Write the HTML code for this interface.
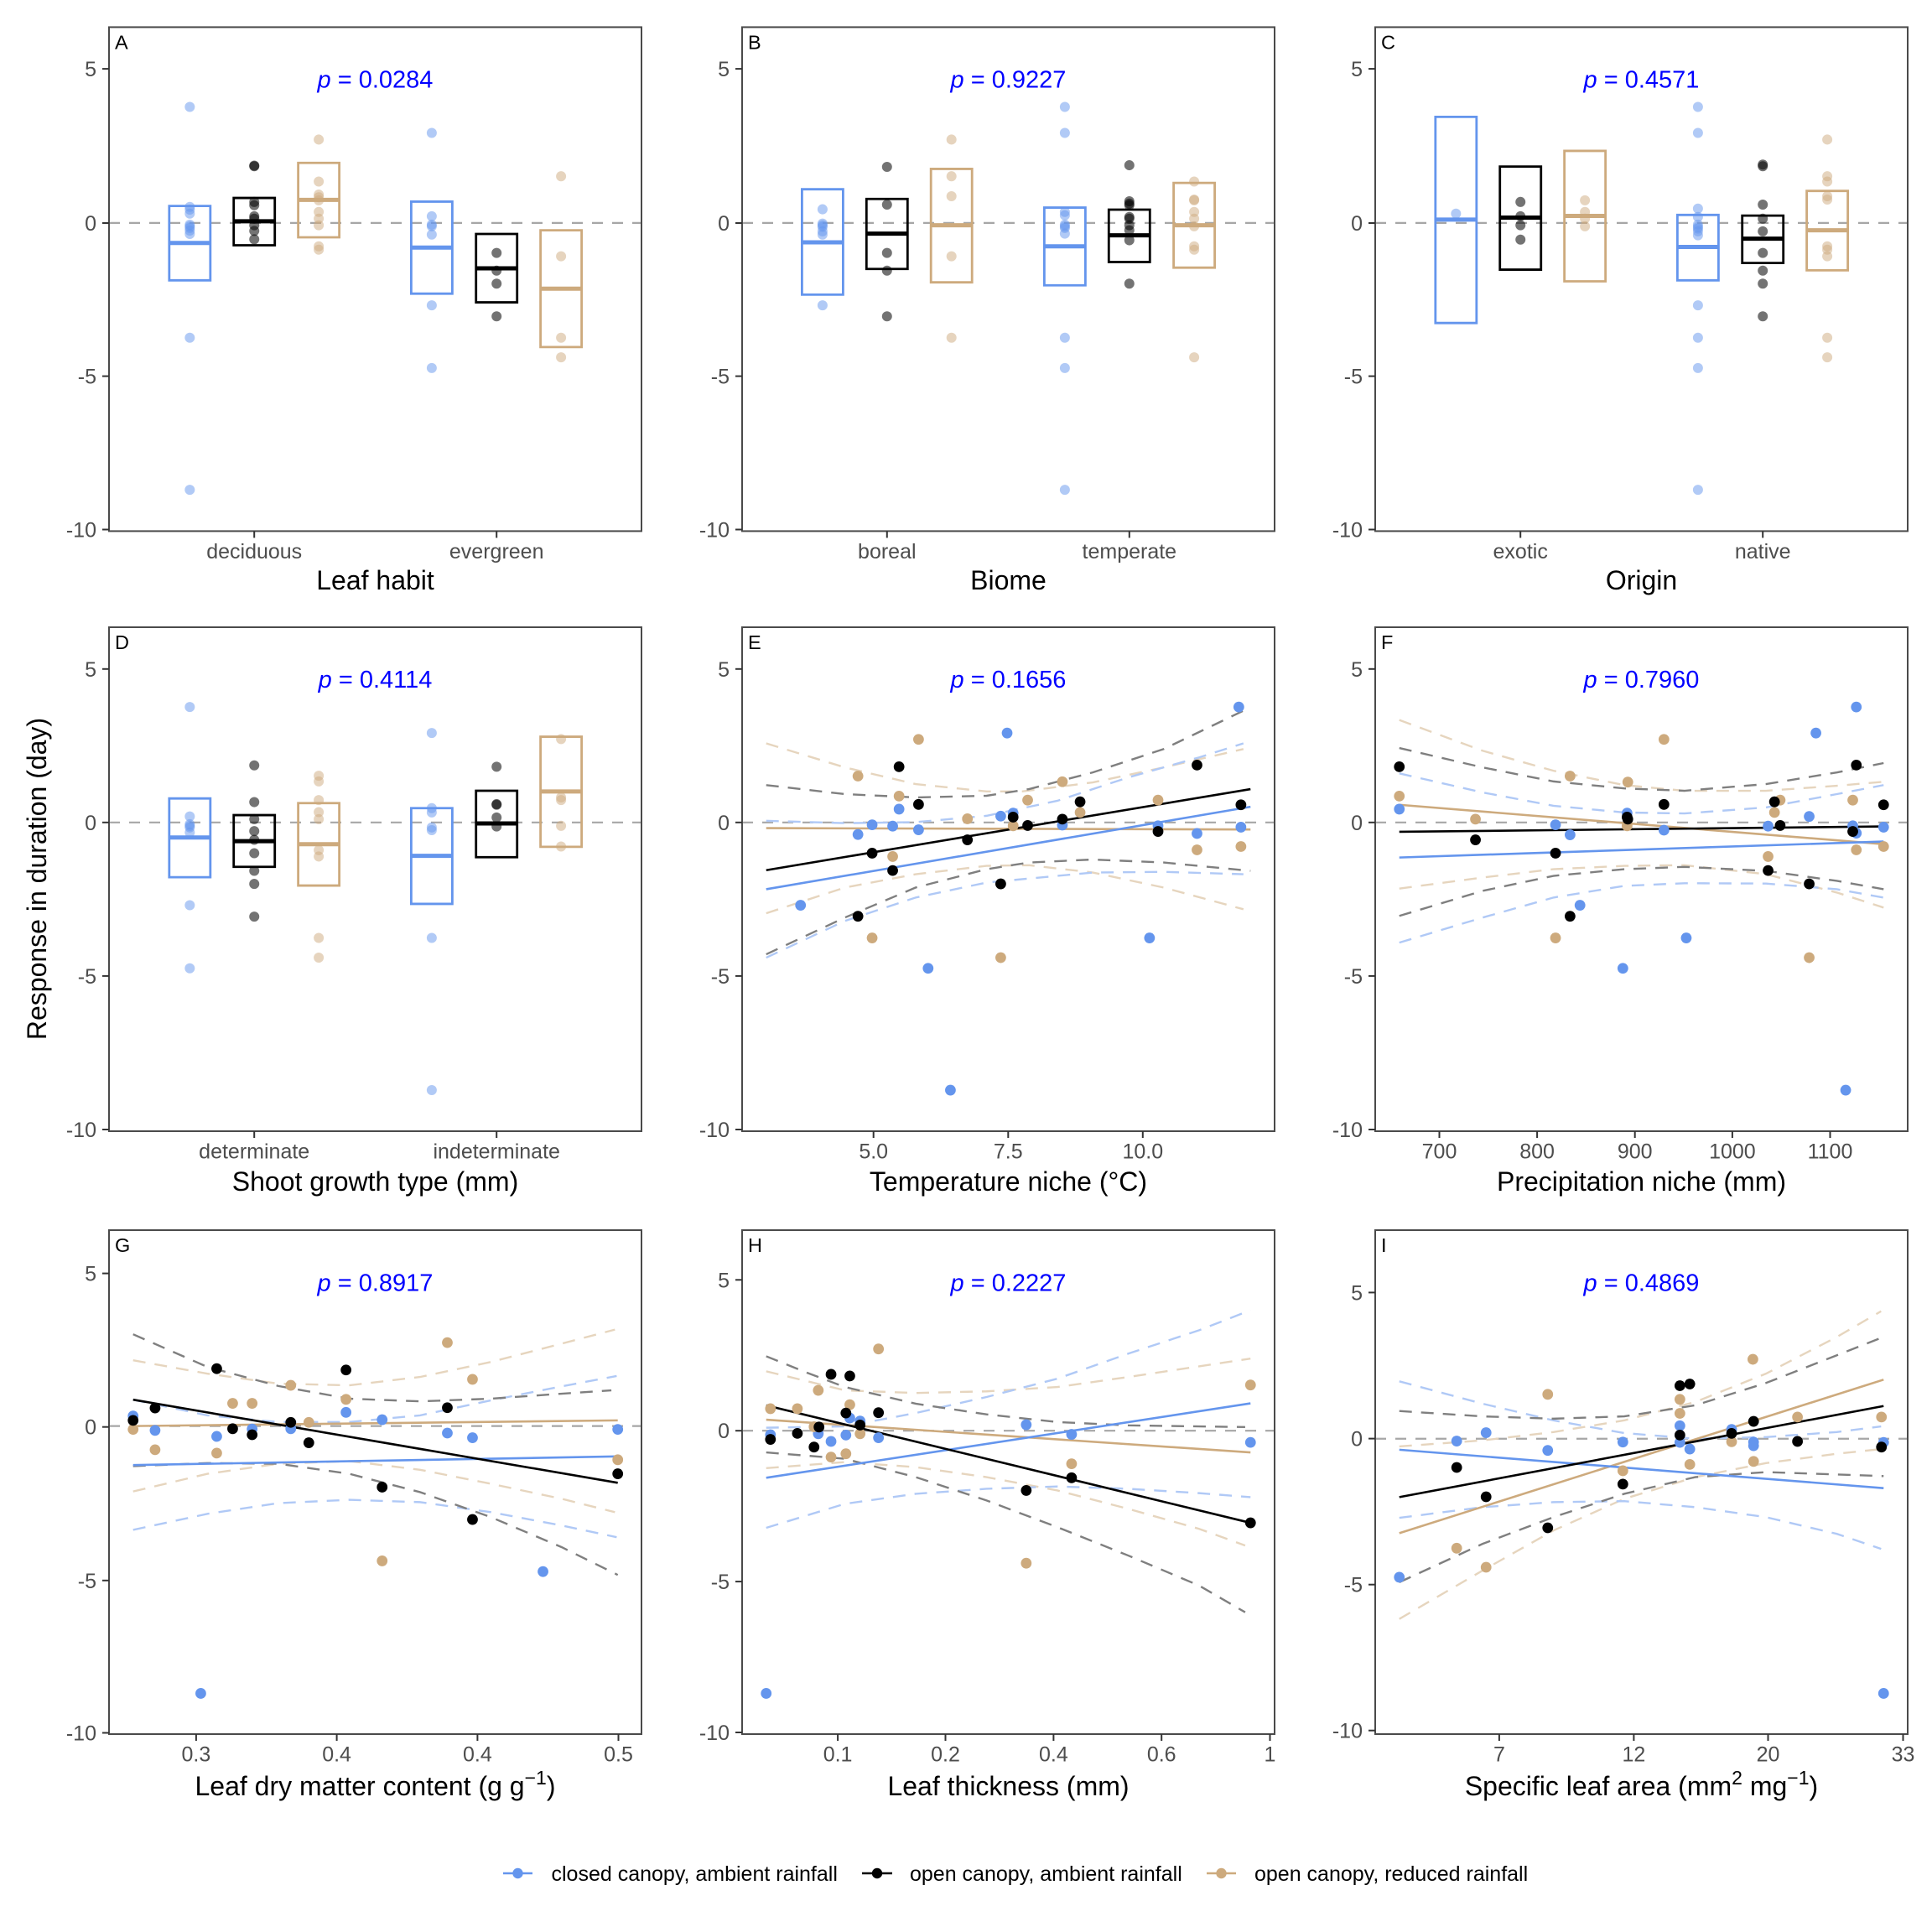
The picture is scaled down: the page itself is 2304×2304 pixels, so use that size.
<!DOCTYPE html>
<html><head><meta charset="utf-8">
<style>
html,body{margin:0;padding:0;background:#fff}
svg{display:block}
text{font-family:"Liberation Sans",Arial,sans-serif}
.tl{font-size:25px;fill:#4d4d4d}
.ti{font-size:32px;fill:#000}
.pv{font-size:29px;fill:#0000ff}
.lt{font-size:23.5px;fill:#000}
.lg{font-size:25px;fill:#000}
.ns,.ns *{vector-effect:non-scaling-stroke;fill:none}
.z{stroke:#a6a6a6;stroke-width:2.2;stroke-dasharray:13 11}
.bx,.bx *{stroke-width:2.8}
.md{stroke-width:5}
.sl{stroke-width:2.6}
.ci{stroke-width:2.4;stroke-dasharray:15 11}
.brd{fill:none;stroke:#4a4a4a;stroke-width:2}
.tk{stroke:#333;stroke-width:2}
</style></head><body>
<svg width="2304" height="2304" viewBox="0 0 2304 2304" xmlns="http://www.w3.org/2000/svg">
<defs>
<ellipse id="b" cx="0" cy="0" rx="14.2" ry="15.1"/>
<ellipse id="s" cx="0" cy="0" rx="15.1" ry="16.1"/>
</defs>
<rect x="0" y="0" width="2304" height="2304" fill="#fff"/>

<!-- ================= PANEL A ================= -->
<g transform="matrix(0.42249 0 0 0.39775 120.705 30.01)">
<line class="ns z" x1="22" y1="593" x2="1525" y2="593"/>
<g class="ns bx" stroke="#6495ED"><rect x="192" y="542" width="116" height="223"/><rect x="875" y="529" width="116" height="276"/></g>
<g class="ns bx" stroke="#000"><rect x="374" y="518" width="116" height="142"/><rect x="1058" y="626" width="116" height="205"/></g>
<g class="ns bx" stroke="#CDAA7D"><rect x="556" y="413" width="116" height="223"/><rect x="1240" y="615" width="116" height="350"/></g>
<line class="ns md" stroke="#6495ED" x1="192" y1="653" x2="308" y2="653"/>
<line class="ns md" stroke="#000" x1="374" y1="588" x2="490" y2="588"/>
<line class="ns md" stroke="#CDAA7D" x1="556" y1="524" x2="672" y2="524"/>
<line class="ns md" stroke="#6495ED" x1="875" y1="667" x2="991" y2="667"/>
<line class="ns md" stroke="#000" x1="1058" y1="729" x2="1174" y2="729"/>
<line class="ns md" stroke="#CDAA7D" x1="1240" y1="790" x2="1356" y2="790"/>
<g fill="#6495ED" fill-opacity="0.5">
<use href="#b" x="250" y="245"/><use href="#b" x="250" y="545"/><use href="#b" x="250" y="553"/><use href="#b" x="250" y="565"/><use href="#b" x="250" y="598"/><use href="#b" x="250" y="603"/><use href="#b" x="250" y="608"/><use href="#b" x="250" y="616"/><use href="#b" x="250" y="626"/><use href="#b" x="250" y="937"/><use href="#b" x="250" y="1393"/>
<use href="#b" x="933" y="323"/><use href="#b" x="933" y="573"/><use href="#b" x="933" y="598"/><use href="#b" x="933" y="603"/><use href="#b" x="933" y="628"/><use href="#b" x="933" y="840"/><use href="#b" x="933" y="1028"/>
</g>
<g fill="#000" fill-opacity="0.55">
<use href="#b" x="432" y="421"/><use href="#b" x="432" y="423"/><use href="#b" x="432" y="530"/><use href="#b" x="432" y="540"/><use href="#b" x="432" y="573"/><use href="#b" x="432" y="580"/><use href="#b" x="432" y="600"/><use href="#b" x="432" y="617"/><use href="#b" x="432" y="642"/>
<use href="#b" x="1116" y="683"/><use href="#b" x="1116" y="736"/><use href="#b" x="1116" y="775"/><use href="#b" x="1116" y="873"/>
</g>
<g fill="#CDAA7D" fill-opacity="0.5">
<use href="#b" x="614" y="343"/><use href="#b" x="614" y="469"/><use href="#b" x="614" y="508"/><use href="#b" x="614" y="516"/><use href="#b" x="614" y="525"/><use href="#b" x="614" y="560"/><use href="#b" x="614" y="580"/><use href="#b" x="614" y="600"/><use href="#b" x="614" y="663"/><use href="#b" x="614" y="673"/>
<use href="#b" x="1298" y="453"/><use href="#b" x="1298" y="693"/><use href="#b" x="1298" y="937"/><use href="#b" x="1298" y="996"/>
</g>
</g>

<!-- ================= PANEL B ================= -->
<g transform="matrix(0.42249 0 0 0.39775 880.775 30.01)">
<line class="ns z" x1="10" y1="593" x2="1513" y2="593"/>
<g class="ns bx" stroke="#6495ED"><rect x="179" y="492" width="116" height="316"/><rect x="863" y="547" width="116" height="233"/></g>
<g class="ns bx" stroke="#000"><rect x="361" y="521" width="116" height="210"/><rect x="1045" y="553" width="116" height="157"/></g>
<g class="ns bx" stroke="#CDAA7D"><rect x="543" y="431" width="116" height="340"/><rect x="1228" y="473" width="116" height="254"/></g>
<line class="ns md" stroke="#6495ED" x1="179" y1="651" x2="295" y2="651"/>
<line class="ns md" stroke="#000" x1="361" y1="625" x2="477" y2="625"/>
<line class="ns md" stroke="#CDAA7D" x1="543" y1="600" x2="659" y2="600"/>
<line class="ns md" stroke="#6495ED" x1="863" y1="663" x2="979" y2="663"/>
<line class="ns md" stroke="#000" x1="1045" y1="630" x2="1161" y2="630"/>
<line class="ns md" stroke="#CDAA7D" x1="1228" y1="600" x2="1344" y2="600"/>
<g fill="#6495ED" fill-opacity="0.5">
<use href="#b" x="237" y="552"/><use href="#b" x="237" y="595"/><use href="#b" x="237" y="600"/><use href="#b" x="237" y="605"/><use href="#b" x="237" y="618"/><use href="#b" x="237" y="628"/><use href="#b" x="237" y="840"/>
<use href="#b" x="921" y="245"/><use href="#b" x="921" y="323"/><use href="#b" x="921" y="560"/><use href="#b" x="921" y="570"/><use href="#b" x="921" y="598"/><use href="#b" x="921" y="603"/><use href="#b" x="921" y="608"/><use href="#b" x="921" y="625"/><use href="#b" x="921" y="937"/><use href="#b" x="921" y="1028"/><use href="#b" x="921" y="1393"/>
</g>
<g fill="#000" fill-opacity="0.55">
<use href="#b" x="419" y="425"/><use href="#b" x="419" y="538"/><use href="#b" x="419" y="683"/><use href="#b" x="419" y="736"/><use href="#b" x="419" y="873"/>
<use href="#b" x="1103" y="420"/><use href="#b" x="1103" y="528"/><use href="#b" x="1103" y="535"/><use href="#b" x="1103" y="540"/><use href="#b" x="1103" y="575"/><use href="#b" x="1103" y="580"/><use href="#b" x="1103" y="600"/><use href="#b" x="1103" y="615"/><use href="#b" x="1103" y="645"/><use href="#b" x="1103" y="775"/>
</g>
<g fill="#CDAA7D" fill-opacity="0.5">
<use href="#b" x="601" y="343"/><use href="#b" x="601" y="453"/><use href="#b" x="601" y="513"/><use href="#b" x="601" y="693"/><use href="#b" x="601" y="937"/>
<use href="#b" x="1286" y="469"/><use href="#b" x="1286" y="523"/><use href="#b" x="1286" y="525"/><use href="#b" x="1286" y="560"/><use href="#b" x="1286" y="580"/><use href="#b" x="1286" y="603"/><use href="#b" x="1286" y="663"/><use href="#b" x="1286" y="673"/><use href="#b" x="1286" y="996"/>
</g>
</g>

<!-- ================= PANEL C ================= -->
<g transform="matrix(0.42249 0 0 0.39775 1641.27 30.01)">
<line class="ns z" x1="-3" y1="593" x2="1500" y2="593"/>
<g class="ns bx" stroke="#6495ED"><rect x="167" y="275" width="116" height="618"/><rect x="850" y="569" width="116" height="196"/></g>
<g class="ns bx" stroke="#000"><rect x="349" y="424" width="116" height="309"/><rect x="1033" y="571" width="116" height="142"/></g>
<g class="ns bx" stroke="#CDAA7D"><rect x="531" y="377" width="116" height="391"/><rect x="1215" y="497" width="116" height="238"/></g>
<line class="ns md" stroke="#6495ED" x1="167" y1="583" x2="283" y2="583"/>
<line class="ns md" stroke="#000" x1="349" y1="577" x2="465" y2="577"/>
<line class="ns md" stroke="#CDAA7D" x1="531" y1="572" x2="647" y2="572"/>
<line class="ns md" stroke="#6495ED" x1="850" y1="665" x2="966" y2="665"/>
<line class="ns md" stroke="#000" x1="1033" y1="640" x2="1149" y2="640"/>
<line class="ns md" stroke="#CDAA7D" x1="1215" y1="615" x2="1331" y2="615"/>
<g fill="#6495ED" fill-opacity="0.5">
<use href="#b" x="225" y="565"/>
<use href="#b" x="908" y="245"/><use href="#b" x="908" y="323"/><use href="#b" x="908" y="550"/><use href="#b" x="908" y="575"/><use href="#b" x="908" y="598"/><use href="#b" x="908" y="605"/><use href="#b" x="908" y="610"/><use href="#b" x="908" y="618"/><use href="#b" x="908" y="630"/><use href="#b" x="908" y="840"/><use href="#b" x="908" y="937"/><use href="#b" x="908" y="1028"/><use href="#b" x="908" y="1393"/>
</g>
<g fill="#000" fill-opacity="0.55">
<use href="#b" x="407" y="530"/><use href="#b" x="407" y="573"/><use href="#b" x="407" y="600"/><use href="#b" x="407" y="643"/>
<use href="#b" x="1091" y="418"/><use href="#b" x="1091" y="423"/><use href="#b" x="1091" y="538"/><use href="#b" x="1091" y="580"/><use href="#b" x="1091" y="618"/><use href="#b" x="1091" y="683"/><use href="#b" x="1091" y="736"/><use href="#b" x="1091" y="775"/><use href="#b" x="1091" y="873"/>
</g>
<g fill="#CDAA7D" fill-opacity="0.5">
<use href="#b" x="589" y="525"/><use href="#b" x="589" y="560"/><use href="#b" x="589" y="580"/><use href="#b" x="589" y="603"/>
<use href="#b" x="1273" y="343"/><use href="#b" x="1273" y="453"/><use href="#b" x="1273" y="469"/><use href="#b" x="1273" y="513"/><use href="#b" x="1273" y="523"/><use href="#b" x="1273" y="663"/><use href="#b" x="1273" y="673"/><use href="#b" x="1273" y="693"/><use href="#b" x="1273" y="937"/><use href="#b" x="1273" y="996"/>
</g>
</g>

<!-- ================= PANEL D ================= -->
<g transform="matrix(0.42249 0 0 0.39801 120.705 740.04)">
<line class="ns z" x1="22" y1="605" x2="1525" y2="605"/>
<g class="ns bx" stroke="#6495ED"><rect x="192" y="533" width="116" height="236"/><rect x="875" y="562" width="116" height="287"/></g>
<g class="ns bx" stroke="#000"><rect x="374" y="583" width="116" height="155"/><rect x="1058" y="510" width="116" height="199"/></g>
<g class="ns bx" stroke="#CDAA7D"><rect x="556" y="547" width="116" height="247"/><rect x="1240" y="348" width="116" height="330"/></g>
<line class="ns md" stroke="#6495ED" x1="192" y1="650" x2="308" y2="650"/>
<line class="ns md" stroke="#000" x1="374" y1="661" x2="490" y2="661"/>
<line class="ns md" stroke="#CDAA7D" x1="556" y1="670" x2="672" y2="670"/>
<line class="ns md" stroke="#6495ED" x1="875" y1="705" x2="991" y2="705"/>
<line class="ns md" stroke="#000" x1="1058" y1="608" x2="1174" y2="608"/>
<line class="ns md" stroke="#CDAA7D" x1="1240" y1="512" x2="1356" y2="512"/>
<g fill="#6495ED" fill-opacity="0.5">
<use href="#b" x="250" y="259"/><use href="#b" x="250" y="587"/><use href="#b" x="250" y="610"/><use href="#b" x="250" y="615"/><use href="#b" x="250" y="620"/><use href="#b" x="250" y="635"/><use href="#b" x="250" y="853"/><use href="#b" x="250" y="1042"/>
<use href="#b" x="933" y="337"/><use href="#b" x="933" y="562"/><use href="#b" x="933" y="575"/><use href="#b" x="933" y="620"/><use href="#b" x="933" y="628"/><use href="#b" x="933" y="951"/><use href="#b" x="933" y="1407"/>
</g>
<g fill="#000" fill-opacity="0.55">
<use href="#b" x="432" y="434"/><use href="#b" x="432" y="544"/><use href="#b" x="432" y="595"/><use href="#b" x="432" y="631"/><use href="#b" x="432" y="657"/><use href="#b" x="432" y="697"/><use href="#b" x="432" y="750"/><use href="#b" x="432" y="789"/><use href="#b" x="432" y="887"/>
<use href="#b" x="1116" y="438"/><use href="#b" x="1116" y="550"/><use href="#b" x="1116" y="552"/><use href="#b" x="1116" y="590"/><use href="#b" x="1116" y="617"/>
</g>
<g fill="#CDAA7D" fill-opacity="0.5">
<use href="#b" x="614" y="465"/><use href="#b" x="614" y="482"/><use href="#b" x="614" y="538"/><use href="#b" x="614" y="574"/><use href="#b" x="614" y="595"/><use href="#b" x="614" y="688"/><use href="#b" x="614" y="707"/><use href="#b" x="614" y="951"/><use href="#b" x="614" y="1010"/>
<use href="#b" x="1298" y="355"/><use href="#b" x="1298" y="530"/><use href="#b" x="1298" y="538"/><use href="#b" x="1298" y="615"/><use href="#b" x="1298" y="677"/>
</g>
</g>

<!-- ================= PANEL E ================= -->
<g transform="matrix(0.42249 0 0 0.39801 880.775 740.04)">
<line class="ns z" x1="10" y1="605" x2="1513" y2="605"/>
<polyline class="ns ci" stroke="#E6D5BE" points="78,368 300,440 500,490 700,512 800,512 1000,485 1200,440 1425,385"/>
<polyline class="ns ci" stroke="#E6D5BE" points="78,877 300,800 500,760 700,735 820,733 1000,755 1200,800 1425,865"/>
<polyline class="ns ci" stroke="#B0C9F6" points="78,600 300,607 500,604 700,585 900,540 1100,470 1300,410 1425,368"/>
<polyline class="ns ci" stroke="#B0C9F6" points="78,1010 300,900 500,830 700,785 900,765 1000,755 1200,753 1425,760"/>
<polyline class="ns ci" stroke="#7f7f7f" points="78,493 300,520 500,530 700,525 820,505 1000,455 1200,385 1445,260"/>
<polyline class="ns ci" stroke="#7f7f7f" points="78,1000 300,890 500,800 700,745 820,725 1000,716 1200,725 1445,750"/>
<line class="ns sl" stroke="#CDAA7D" x1="78" y1="622" x2="1445" y2="626"/>
<line class="ns sl" stroke="#6495ED" x1="78" y1="805" x2="1445" y2="558"/>
<line class="ns sl" stroke="#000" x1="78" y1="748" x2="1445" y2="505"/>
<g fill="#6495ED">
<use href="#s" x="175" y="853"/><use href="#s" x="337" y="641"/><use href="#s" x="377" y="612"/><use href="#s" x="435" y="616"/><use href="#s" x="453" y="565"/><use href="#s" x="508" y="627"/><use href="#s" x="535" y="1042"/><use href="#s" x="598" y="1407"/><use href="#s" x="740" y="586"/><use href="#s" x="758" y="337"/><use href="#s" x="775" y="577"/><use href="#s" x="914" y="613"/><use href="#s" x="1160" y="951"/><use href="#s" x="1184" y="615"/><use href="#s" x="1294" y="638"/><use href="#s" x="1412" y="259"/><use href="#s" x="1418" y="619"/>
</g>
<g fill="#CDAA7D">
<use href="#s" x="337" y="466"/><use href="#s" x="377" y="951"/><use href="#s" x="435" y="707"/><use href="#s" x="453" y="526"/><use href="#s" x="508" y="356"/><use href="#s" x="646" y="594"/><use href="#s" x="740" y="1010"/><use href="#s" x="775" y="615"/><use href="#s" x="816" y="538"/><use href="#s" x="914" y="483"/><use href="#s" x="964" y="575"/><use href="#s" x="1184" y="538"/><use href="#s" x="1294" y="687"/><use href="#s" x="1418" y="677"/>
</g>
<g fill="#000">
<use href="#s" x="337" y="886"/><use href="#s" x="377" y="697"/><use href="#s" x="435" y="749"/><use href="#s" x="453" y="438"/><use href="#s" x="508" y="551"/><use href="#s" x="646" y="657"/><use href="#s" x="740" y="789"/><use href="#s" x="775" y="589"/><use href="#s" x="816" y="614"/><use href="#s" x="914" y="595"/><use href="#s" x="964" y="543"/><use href="#s" x="1184" y="632"/><use href="#s" x="1294" y="433"/><use href="#s" x="1418" y="552"/>
</g>
</g>

<!-- ================= PANEL F ================= -->
<g transform="matrix(0.42249 0 0 0.39801 1641.27 740.04)">
<line class="ns z" x1="-3" y1="605" x2="1500" y2="605"/>
<polyline class="ns ci" stroke="#E6D5BE" points="65,298 300,390 500,450 700,493 870,510 1100,510 1300,495 1432,483"/>
<polyline class="ns ci" stroke="#E6D5BE" points="65,803 300,770 500,745 700,735 870,733 1100,760 1300,815 1432,860"/>
<polyline class="ns ci" stroke="#B0C9F6" points="65,458 300,515 500,555 700,575 870,578 1100,560 1300,520 1432,493"/>
<polyline class="ns ci" stroke="#B0C9F6" points="65,965 300,890 500,830 700,795 870,787 1100,788 1300,805 1432,830"/>
<polyline class="ns ci" stroke="#7f7f7f" points="65,382 300,440 500,482 700,503 870,510 1100,490 1300,455 1432,427"/>
<polyline class="ns ci" stroke="#7f7f7f" points="65,885 300,810 500,765 700,745 870,738 1100,750 1300,780 1432,805"/>
<line class="ns sl" stroke="#CDAA7D" x1="65" y1="552" x2="1432" y2="670"/>
<line class="ns sl" stroke="#6495ED" x1="65" y1="710" x2="1432" y2="662"/>
<line class="ns sl" stroke="#000" x1="65" y1="633" x2="1432" y2="617"/>
<g fill="#6495ED">
<use href="#s" x="65" y="565"/><use href="#s" x="506" y="612"/><use href="#s" x="547" y="642"/><use href="#s" x="575" y="853"/><use href="#s" x="696" y="1042"/><use href="#s" x="708" y="577"/><use href="#s" x="812" y="628"/><use href="#s" x="875" y="951"/><use href="#s" x="1106" y="616"/><use href="#s" x="1222" y="587"/><use href="#s" x="1241" y="337"/><use href="#s" x="1325" y="1407"/><use href="#s" x="1345" y="615"/><use href="#s" x="1355" y="259"/><use href="#s" x="1355" y="637"/><use href="#s" x="1432" y="619"/>
</g>
<g fill="#CDAA7D">
<use href="#s" x="65" y="526"/><use href="#s" x="280" y="595"/><use href="#s" x="506" y="951"/><use href="#s" x="547" y="466"/><use href="#s" x="708" y="615"/><use href="#s" x="710" y="484"/><use href="#s" x="812" y="356"/><use href="#s" x="1106" y="707"/><use href="#s" x="1124" y="575"/><use href="#s" x="1140" y="538"/><use href="#s" x="1222" y="1010"/><use href="#s" x="1345" y="538"/><use href="#s" x="1355" y="687"/><use href="#s" x="1432" y="677"/>
</g>
<g fill="#000">
<use href="#s" x="65" y="438"/><use href="#s" x="280" y="657"/><use href="#s" x="506" y="697"/><use href="#s" x="547" y="886"/><use href="#s" x="708" y="589"/><use href="#s" x="710" y="595"/><use href="#s" x="812" y="551"/><use href="#s" x="1106" y="749"/><use href="#s" x="1124" y="543"/><use href="#s" x="1140" y="614"/><use href="#s" x="1222" y="789"/><use href="#s" x="1345" y="632"/><use href="#s" x="1355" y="433"/><use href="#s" x="1432" y="552"/>
</g>
</g>

<!-- ================= PANEL G ================= -->
<g transform="matrix(0.42249 0 0 0.39801 120.705 1459.04)">
<line class="ns z" x1="22" y1="607" x2="1525" y2="607"/>
<polyline class="ns ci" stroke="#E6D5BE" points="90,410 300,450 500,480 700,485 900,460 1100,415 1300,360 1450,318"/>
<polyline class="ns ci" stroke="#E6D5BE" points="90,803 300,750 500,720 700,712 900,738 1100,780 1300,825 1450,865"/>
<polyline class="ns ci" stroke="#B0C9F6" points="90,528 300,575 500,595 700,595 900,575 1100,530 1300,488 1455,457"/>
<polyline class="ns ci" stroke="#B0C9F6" points="90,918 300,870 500,838 700,828 900,835 1100,865 1300,905 1455,940"/>
<polyline class="ns ci" stroke="#7f7f7f" points="90,332 300,430 500,487 700,525 900,533 1100,525 1300,510 1440,500"/>
<polyline class="ns ci" stroke="#7f7f7f" points="90,727 300,718 500,720 700,750 900,805 1100,880 1300,970 1458,1053"/>
<line class="ns sl" stroke="#CDAA7D" x1="90" y1="607" x2="1458" y2="590"/>
<line class="ns sl" stroke="#6495ED" x1="90" y1="724" x2="1458" y2="698"/>
<line class="ns sl" stroke="#000" x1="90" y1="528" x2="1458" y2="777"/>
<g fill="#6495ED">
<use href="#s" x="90" y="577"/><use href="#s" x="152" y="620"/><use href="#s" x="281" y="1408"/><use href="#s" x="326" y="638"/><use href="#s" x="426" y="616"/><use href="#s" x="535" y="615"/><use href="#s" x="691" y="566"/><use href="#s" x="793" y="588"/><use href="#s" x="977" y="628"/><use href="#s" x="1048" y="642"/><use href="#s" x="1247" y="1043"/><use href="#s" x="1458" y="617"/>
</g>
<g fill="#CDAA7D">
<use href="#s" x="90" y="617"/><use href="#s" x="152" y="678"/><use href="#s" x="326" y="688"/><use href="#s" x="371" y="539"/><use href="#s" x="426" y="539"/><use href="#s" x="535" y="485"/><use href="#s" x="586" y="596"/><use href="#s" x="691" y="527"/><use href="#s" x="793" y="1011"/><use href="#s" x="977" y="357"/><use href="#s" x="1048" y="467"/><use href="#s" x="1458" y="708"/>
</g>
<g fill="#000">
<use href="#s" x="90" y="590"/><use href="#s" x="152" y="553"/><use href="#s" x="326" y="435"/><use href="#s" x="371" y="615"/><use href="#s" x="426" y="633"/><use href="#s" x="535" y="596"/><use href="#s" x="586" y="657"/><use href="#s" x="691" y="439"/><use href="#s" x="793" y="790"/><use href="#s" x="977" y="552"/><use href="#s" x="1048" y="887"/><use href="#s" x="1458" y="750"/>
</g>
</g>

<!-- ================= PANEL H ================= -->
<g transform="matrix(0.42249 0 0 0.39801 880.775 1459.04)">
<line class="ns z" x1="10" y1="621" x2="1513" y2="621"/>
<polyline class="ns ci" stroke="#E6D5BE" points="78,443 300,500 500,508 700,503 900,490 1100,460 1300,428 1445,405"/>
<polyline class="ns ci" stroke="#E6D5BE" points="78,733 300,715 500,730 700,760 900,800 1100,855 1300,915 1430,965"/>
<polyline class="ns ci" stroke="#B0C9F6" points="78,612 300,608 500,568 700,520 900,465 1100,390 1300,320 1445,260"/>
<polyline class="ns ci" stroke="#B0C9F6" points="78,912 300,840 500,810 700,795 900,788 1100,795 1300,808 1445,820"/>
<polyline class="ns ci" stroke="#7f7f7f" points="78,398 200,450 300,490 500,540 700,572 900,595 1100,605 1430,610"/>
<polyline class="ns ci" stroke="#7f7f7f" points="78,686 300,705 500,760 700,830 900,910 1100,995 1300,1085 1430,1165"/>
<line class="ns sl" stroke="#CDAA7D" x1="78" y1="588" x2="1445" y2="686"/>
<line class="ns sl" stroke="#6495ED" x1="78" y1="762" x2="1445" y2="539"/>
<line class="ns sl" stroke="#000" x1="78" y1="545" x2="1445" y2="897"/>
<g fill="#6495ED">
<use href="#s" x="78" y="1408"/><use href="#s" x="90" y="633"/><use href="#s" x="225" y="630"/><use href="#s" x="261" y="653"/><use href="#s" x="303" y="634"/><use href="#s" x="314" y="583"/><use href="#s" x="343" y="592"/><use href="#s" x="395" y="642"/><use href="#s" x="812" y="603"/><use href="#s" x="940" y="632"/><use href="#s" x="1445" y="656"/>
</g>
<g fill="#CDAA7D">
<use href="#s" x="90" y="555"/><use href="#s" x="166" y="555"/><use href="#s" x="213" y="609"/><use href="#s" x="225" y="500"/><use href="#s" x="261" y="700"/><use href="#s" x="303" y="690"/><use href="#s" x="314" y="543"/><use href="#s" x="343" y="630"/><use href="#s" x="395" y="376"/><use href="#s" x="812" y="1018"/><use href="#s" x="940" y="720"/><use href="#s" x="1445" y="484"/>
</g>
<g fill="#000">
<use href="#s" x="90" y="647"/><use href="#s" x="166" y="629"/><use href="#s" x="213" y="670"/><use href="#s" x="227" y="610"/><use href="#s" x="261" y="452"/><use href="#s" x="303" y="568"/><use href="#s" x="314" y="457"/><use href="#s" x="343" y="604"/><use href="#s" x="395" y="567"/><use href="#s" x="812" y="800"/><use href="#s" x="940" y="762"/><use href="#s" x="1445" y="897"/>
</g>
</g>

<!-- ================= PANEL I ================= -->
<g transform="matrix(0.42249 0 0 0.39801 1641.27 1459.04)">
<line class="ns z" x1="-3" y1="645" x2="1500" y2="645"/>
<polyline class="ns ci" stroke="#E6D5BE" points="65,668 300,650 500,625 700,590 900,535 1100,450 1300,340 1425,263"/>
<polyline class="ns ci" stroke="#E6D5BE" points="65,1185 300,1040 500,920 700,825 900,760 1100,718 1300,690 1425,676"/>
<polyline class="ns ci" stroke="#B0C9F6" points="65,473 300,540 500,590 700,628 900,645 1100,640 1300,625 1425,608"/>
<polyline class="ns ci" stroke="#B0C9F6" points="65,882 300,850 500,835 700,832 900,850 1100,880 1300,930 1425,975"/>
<polyline class="ns ci" stroke="#7f7f7f" points="65,562 300,578 500,585 700,578 900,545 1100,478 1300,395 1432,340"/>
<polyline class="ns ci" stroke="#7f7f7f" points="65,1075 300,960 500,880 700,810 900,760 1100,745 1300,752 1432,757"/>
<line class="ns sl" stroke="#CDAA7D" x1="65" y1="928" x2="1432" y2="468"/>
<line class="ns sl" stroke="#6495ED" x1="65" y1="678" x2="1432" y2="793"/>
<line class="ns sl" stroke="#000" x1="65" y1="820" x2="1432" y2="547"/>
<g fill="#6495ED">
<use href="#s" x="65" y="1060"/><use href="#s" x="227" y="652"/><use href="#s" x="310" y="627"/><use href="#s" x="484" y="680"/><use href="#s" x="696" y="655"/><use href="#s" x="857" y="606"/><use href="#s" x="857" y="656"/><use href="#s" x="885" y="676"/><use href="#s" x="1003" y="617"/><use href="#s" x="1065" y="655"/><use href="#s" x="1065" y="666"/><use href="#s" x="1432" y="656"/><use href="#s" x="1432" y="1408"/>
</g>
<g fill="#CDAA7D">
<use href="#s" x="227" y="973"/><use href="#s" x="310" y="1030"/><use href="#s" x="484" y="512"/><use href="#s" x="696" y="741"/><use href="#s" x="857" y="527"/><use href="#s" x="857" y="569"/><use href="#s" x="885" y="722"/><use href="#s" x="1003" y="654"/><use href="#s" x="1063" y="407"/><use href="#s" x="1065" y="713"/><use href="#s" x="1189" y="580"/><use href="#s" x="1426" y="580"/>
</g>
<g fill="#000">
<use href="#s" x="227" y="731"/><use href="#s" x="310" y="819"/><use href="#s" x="484" y="912"/><use href="#s" x="696" y="781"/><use href="#s" x="857" y="486"/><use href="#s" x="885" y="481"/><use href="#s" x="857" y="634"/><use href="#s" x="1003" y="629"/><use href="#s" x="1065" y="593"/><use href="#s" x="1189" y="653"/><use href="#s" x="1426" y="670"/>
</g>
</g>

<!-- ================= BORDERS ================= -->
<rect class="brd" x="130" y="32.4" width="635" height="601"/>
<rect class="brd" x="885" y="32.4" width="635" height="601"/>
<rect class="brd" x="1640" y="32.4" width="635" height="601"/>
<rect class="brd" x="130" y="748" width="635" height="601"/>
<rect class="brd" x="885" y="748" width="635" height="601"/>
<rect class="brd" x="1640" y="748" width="635" height="601"/>
<rect class="brd" x="130" y="1467" width="635" height="601"/>
<rect class="brd" x="885" y="1467" width="635" height="601"/>
<rect class="brd" x="1640" y="1467" width="635" height="601"/>

<!-- ================= Y TICKS ================= -->
<g class="tk">
<line x1="122" y1="82.1" x2="130" y2="82.1"/><line x1="122" y1="266" x2="130" y2="266"/><line x1="122" y1="448.6" x2="130" y2="448.6"/><line x1="122" y1="631.5" x2="130" y2="631.5"/>
<line x1="877" y1="82.1" x2="885" y2="82.1"/><line x1="877" y1="266" x2="885" y2="266"/><line x1="877" y1="448.6" x2="885" y2="448.6"/><line x1="877" y1="631.5" x2="885" y2="631.5"/>
<line x1="1632" y1="82.1" x2="1640" y2="82.1"/><line x1="1632" y1="266" x2="1640" y2="266"/><line x1="1632" y1="448.6" x2="1640" y2="448.6"/><line x1="1632" y1="631.5" x2="1640" y2="631.5"/>
<line x1="122" y1="797.8" x2="130" y2="797.8"/><line x1="122" y1="980.8" x2="130" y2="980.8"/><line x1="122" y1="1163.9" x2="130" y2="1163.9"/><line x1="122" y1="1347" x2="130" y2="1347"/>
<line x1="877" y1="797.8" x2="885" y2="797.8"/><line x1="877" y1="980.8" x2="885" y2="980.8"/><line x1="877" y1="1163.9" x2="885" y2="1163.9"/><line x1="877" y1="1347" x2="885" y2="1347"/>
<line x1="1632" y1="797.8" x2="1640" y2="797.8"/><line x1="1632" y1="980.8" x2="1640" y2="980.8"/><line x1="1632" y1="1163.9" x2="1640" y2="1163.9"/><line x1="1632" y1="1347" x2="1640" y2="1347"/>
<line x1="122" y1="1518.6" x2="130" y2="1518.6"/><line x1="122" y1="1701.7" x2="130" y2="1701.7"/><line x1="122" y1="1884.8" x2="130" y2="1884.8"/><line x1="122" y1="2066.5" x2="130" y2="2066.5"/>
<line x1="877" y1="1526.3" x2="885" y2="1526.3"/><line x1="877" y1="1706.2" x2="885" y2="1706.2"/><line x1="877" y1="1886.1" x2="885" y2="1886.1"/><line x1="877" y1="2066" x2="885" y2="2066"/>
<line x1="1632" y1="1541.4" x2="1640" y2="1541.4"/><line x1="1632" y1="1715.6" x2="1640" y2="1715.6"/><line x1="1632" y1="1889.7" x2="1640" y2="1889.7"/><line x1="1632" y1="2063.7" x2="1640" y2="2063.7"/>
</g>
<g class="tl" text-anchor="end">
<text x="115" y="91">5</text><text x="115" y="275">0</text><text x="115" y="457.6">-5</text><text x="115" y="640.5">-10</text>
<text x="870" y="91">5</text><text x="870" y="275">0</text><text x="870" y="457.6">-5</text><text x="870" y="640.5">-10</text>
<text x="1625" y="91">5</text><text x="1625" y="275">0</text><text x="1625" y="457.6">-5</text><text x="1625" y="640.5">-10</text>
<text x="115" y="806.8">5</text><text x="115" y="989.8">0</text><text x="115" y="1172.9">-5</text><text x="115" y="1356">-10</text>
<text x="870" y="806.8">5</text><text x="870" y="989.8">0</text><text x="870" y="1172.9">-5</text><text x="870" y="1356">-10</text>
<text x="1625" y="806.8">5</text><text x="1625" y="989.8">0</text><text x="1625" y="1172.9">-5</text><text x="1625" y="1356">-10</text>
<text x="115" y="1527.6">5</text><text x="115" y="1710.7">0</text><text x="115" y="1893.8">-5</text><text x="115" y="2075.5">-10</text>
<text x="870" y="1535.3">5</text><text x="870" y="1715.2">0</text><text x="870" y="1895.1">-5</text><text x="870" y="2075">-10</text>
<text x="1625" y="1550.4">5</text><text x="1625" y="1724.6">0</text><text x="1625" y="1898.7">-5</text><text x="1625" y="2072.7">-10</text>
</g>

<!-- ================= X TICKS ================= -->
<g class="tk">
<line x1="303.2" y1="633.4" x2="303.2" y2="641.4"/><line x1="592.2" y1="633.4" x2="592.2" y2="641.4"/>
<line x1="1057.8" y1="633.4" x2="1057.8" y2="641.4"/><line x1="1346.8" y1="633.4" x2="1346.8" y2="641.4"/>
<line x1="1813.2" y1="633.4" x2="1813.2" y2="641.4"/><line x1="2102.2" y1="633.4" x2="2102.2" y2="641.4"/>
<line x1="303.2" y1="1349" x2="303.2" y2="1357"/><line x1="592.2" y1="1349" x2="592.2" y2="1357"/>
<line x1="1041.7" y1="1349" x2="1041.7" y2="1357"/><line x1="1202.3" y1="1349" x2="1202.3" y2="1357"/><line x1="1362.8" y1="1349" x2="1362.8" y2="1357"/>
<line x1="1716.5" y1="1349" x2="1716.5" y2="1357"/><line x1="1833.1" y1="1349" x2="1833.1" y2="1357"/><line x1="1949.7" y1="1349" x2="1949.7" y2="1357"/><line x1="2065.9" y1="1349" x2="2065.9" y2="1357"/><line x1="2182.5" y1="1349" x2="2182.5" y2="1357"/>
<line x1="233.9" y1="2068" x2="233.9" y2="2076"/><line x1="401.6" y1="2068" x2="401.6" y2="2076"/><line x1="569.4" y1="2068" x2="569.4" y2="2076"/><line x1="737.5" y1="2068" x2="737.5" y2="2076"/>
<line x1="999.1" y1="2068" x2="999.1" y2="2076"/><line x1="1127.5" y1="2068" x2="1127.5" y2="2076"/><line x1="1256.4" y1="2068" x2="1256.4" y2="2076"/><line x1="1385.2" y1="2068" x2="1385.2" y2="2076"/><line x1="1514.5" y1="2068" x2="1514.5" y2="2076"/>
<line x1="1787.9" y1="2068" x2="1787.9" y2="2076"/><line x1="1948.4" y1="2068" x2="1948.4" y2="2076"/><line x1="2108.5" y1="2068" x2="2108.5" y2="2076"/><line x1="2269.5" y1="2068" x2="2269.5" y2="2076"/>
</g>
<g class="tl" text-anchor="middle">
<text x="303.2" y="666">deciduous</text><text x="592.2" y="666">evergreen</text>
<text x="1057.8" y="666">boreal</text><text x="1346.8" y="666">temperate</text>
<text x="1813.2" y="666">exotic</text><text x="2102.2" y="666">native</text>
<text x="303.2" y="1381.5">determinate</text><text x="592.2" y="1381.5">indeterminate</text>
<text x="1041.7" y="1381.5">5.0</text><text x="1202.3" y="1381.5">7.5</text><text x="1362.8" y="1381.5">10.0</text>
<text x="1716.5" y="1381.5">700</text><text x="1833.1" y="1381.5">800</text><text x="1949.7" y="1381.5">900</text><text x="2065.9" y="1381.5">1000</text><text x="2182.5" y="1381.5">1100</text>
<text x="233.9" y="2100.5">0.3</text><text x="401.6" y="2100.5">0.4</text><text x="569.4" y="2100.5">0.4</text><text x="737.5" y="2100.5">0.5</text>
<text x="999.1" y="2100.5">0.1</text><text x="1127.5" y="2100.5">0.2</text><text x="1256.4" y="2100.5">0.4</text><text x="1385.2" y="2100.5">0.6</text><text x="1514.5" y="2100.5">1</text>
<text x="1787.9" y="2100.5">7</text><text x="1948.4" y="2100.5">12</text><text x="2108.5" y="2100.5">20</text><text x="2269.5" y="2100.5">33</text>
</g>

<!-- ================= AXIS TITLES ================= -->
<g class="ti" text-anchor="middle">
<text x="447.5" y="703">Leaf habit</text>
<text x="1202.5" y="703">Biome</text>
<text x="1957.5" y="703">Origin</text>
<text x="447.5" y="1420">Shoot growth type (mm)</text>
<text x="1202.5" y="1420">Temperature niche (°C)</text>
<text x="1957.5" y="1420">Precipitation niche (mm)</text>
<text x="447.5" y="2141">Leaf dry matter content (g g<tspan dy="-13" font-size="23">−1</tspan><tspan dy="13">)</tspan></text>
<text x="1202.5" y="2141">Leaf thickness (mm)</text>
<text x="1957.5" y="2141">Specific leaf area (mm<tspan dy="-13" font-size="23">2</tspan><tspan dy="13"> mg</tspan><tspan dy="-13" font-size="23">−1</tspan><tspan dy="13">)</tspan></text>
</g>
<text class="ti" text-anchor="middle" transform="translate(55,1048) rotate(-90)">Response in duration (day)</text>

<!-- ================= PANEL LETTERS ================= -->
<g class="lt">
<text x="137" y="58.4">A</text><text x="892" y="58.4">B</text><text x="1647" y="58.4">C</text>
<text x="137" y="774">D</text><text x="892" y="774">E</text><text x="1647" y="774">F</text>
<text x="137" y="1493">G</text><text x="892" y="1493">H</text><text x="1647" y="1493">I</text>
</g>

<!-- ================= P VALUES ================= -->
<g class="pv" text-anchor="middle">
<text x="447.5" y="104.4"><tspan font-style="italic">p</tspan> = 0.0284</text>
<text x="1202.5" y="104.4"><tspan font-style="italic">p</tspan> = 0.9227</text>
<text x="1957.5" y="104.4"><tspan font-style="italic">p</tspan> = 0.4571</text>
<text x="447.5" y="820"><tspan font-style="italic">p</tspan> = 0.4114</text>
<text x="1202.5" y="820"><tspan font-style="italic">p</tspan> = 0.1656</text>
<text x="1957.5" y="820"><tspan font-style="italic">p</tspan> = 0.7960</text>
<text x="447.5" y="1539.5"><tspan font-style="italic">p</tspan> = 0.8917</text>
<text x="1202.5" y="1539.5"><tspan font-style="italic">p</tspan> = 0.2227</text>
<text x="1957.5" y="1539.5"><tspan font-style="italic">p</tspan> = 0.4869</text>
</g>

<!-- ================= LEGEND ================= -->
<line x1="600" y1="2234" x2="635" y2="2234" stroke="#6495ED" stroke-width="2.6"/>
<circle cx="617.5" cy="2234" r="6.2" fill="#6495ED"/>
<text class="lg" x="657.5" y="2243">closed canopy, ambient rainfall</text>
<line x1="1028" y1="2234" x2="1064" y2="2234" stroke="#000" stroke-width="2.6"/>
<circle cx="1046" cy="2234" r="6.2" fill="#000"/>
<text class="lg" x="1085" y="2243">open canopy, ambient rainfall</text>
<line x1="1439" y1="2234" x2="1474" y2="2234" stroke="#CDAA7D" stroke-width="2.6"/>
<circle cx="1456.5" cy="2234" r="6.2" fill="#CDAA7D"/>
<text class="lg" x="1496" y="2243">open canopy, reduced rainfall</text>
</svg>
</body></html>
